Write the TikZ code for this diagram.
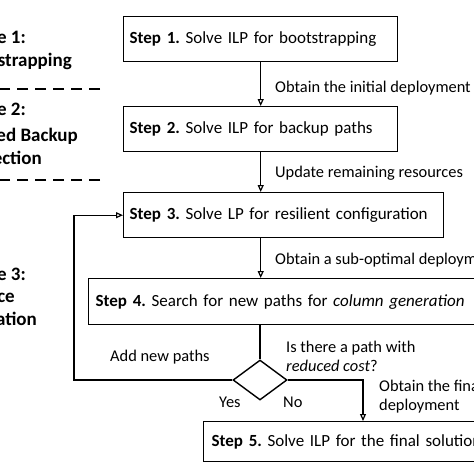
\documentclass[tikz,border=0pt]{standalone}
\usepackage{fontspec}
\setmainfont{Carlito}
\usetikzlibrary{arrows.meta,shapes.geometric}
\frenchspacing
\tikzset{
    stepbox/.style={draw, rectangle, line width=1.4pt, anchor=north west,
        inner xsep=6pt, inner ysep=0pt, align=left,
        font=\fontsize{17}{20.4}\selectfont}
}
\tikzset{
    lbl/.style={inner sep=0pt, anchor=base west,
        font=\fontsize{16.4}{19.7}\selectfont}
}
\tikzset{
    phase/.style={inner sep=0pt, anchor=base east,
        font=\fontsize{19}{23}\selectfont\bfseries}
}
\tikzset{
    phasesep/.style={line width=2.4pt, dash pattern=on 11pt off 7pt}
}
\tikzset{
    flow/.style={line width=1.2pt, -{Triangle[open,length=7pt,width=6pt]}}
}

\begin{document}
\begin{tikzpicture}[x=1pt, y=-1pt]
  \useasboundingbox (0,0) rectangle (474,474);
  \clip (0,0) rectangle (474,474);

  % phases on the left
  \node (ph1a) [phase] at (26,43) {e 1:};
  \node (ph1b) [phase] at (72,66) {strapping};
  \draw [phasesep] (100,89) -- (0,89);
  \node (ph2a) [phase] at (26,115) {e 2:};
  \node (ph2b) [phase] at (78,141) {ed Backup};
  \node (ph2c) [phase] at (42,164) {ection};
  \draw [phasesep] (100,180) -- (0,180);
  \node (ph3a) [phase] at (26,280) {e 3:};
  \node (ph3b) [phase] at (15,302) {ce};
  \node (ph3c) [phase] at (37,325) {ation};

  % steps
  \node (s1) [stepbox, text width=262pt, minimum height=45pt] at (123,16)
    {\textbf{Step 1.} Solve ILP for bootstrapping};
  \node (s2) [stepbox, text width=262pt, minimum height=45pt] at (123,106)
    {\textbf{Step 2.} Solve ILP for backup paths};
  \node (s3) [stepbox, text width=308pt, minimum height=45pt] at (123,192)
    {\textbf{Step 3.} Solve LP for resilient configuration};
  \node (s4) [stepbox, inner xsep=7pt, text width=386pt, minimum height=46pt] at (88,278)
    {\textbf{Step 4.} Search for new paths for \textit{column generation}};
  \node (s5) [stepbox, inner xsep=8pt, text width=284pt, minimum height=40pt] at (203,421)
    {\textbf{Step 5.} Solve ILP for the final solution};
  \node (test) [draw, diamond, line width=1.4pt, inner sep=0pt,
    minimum width=54pt, minimum height=40pt] at (260,380) {};

  \coordinate (back) at (74,380);
  \coordinate (nofin) at (363,380);

  \draw [flow] (s1.south) -- (s2.north -| s1.south);
  \draw [flow] (s2.south) -- (s3.north -| s2.south);
  \draw [flow] (s3.south -| s1.south) -- (s4.north -| s1.south);
  \draw [line width=1.2pt] (s4.south -| test.north) -- (test.north);
  \draw [flow] (test.west) -- (back) |- (s3.west);
  \draw [flow] (test.east) -- (nofin) -- (nofin |- s5.north);

  % connector labels
  \node (l12) [lbl] at (275,92) {Obtain the initial deployment};
  \node (l23) [lbl] at (275,177) {Update remaining resources};
  \node (l34) [lbl] at (275,264) {Obtain a sub-optimal deployment};
  \node (ladd) [lbl] at (110,361) {Add new paths};
  \node (lq1) [lbl] at (286,352) {Is there a path with};
  \node (lq2) [lbl] at (286,371) {\textit{reduced cost}?};
  \node (lyes) [lbl] at (219,407) {Yes};
  \node (lno) [lbl] at (283,407) {No};
  \node (lfin1) [lbl] at (379,391) {Obtain the final};
  \node (lfin2) [lbl] at (379,410) {deployment};
\end{tikzpicture}
\end{document}
